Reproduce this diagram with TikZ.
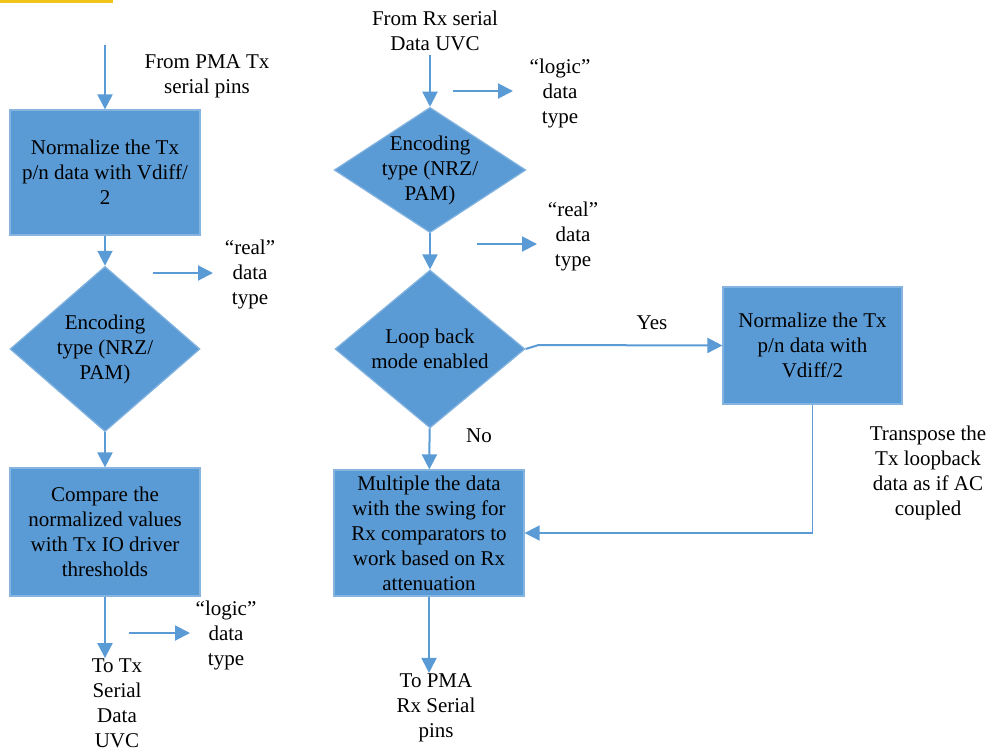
\documentclass[tikz,border=0pt]{standalone}
\usepackage{fontspec}
\newfontfamily\flowfont{LiberationSerif}[Extension=.ttf,UprightFont=*-Regular,Ligatures=TeX]
\usetikzlibrary{arrows.meta,shapes.geometric}
\definecolor{flowblue}{HTML}{5B9BD5}
\definecolor{bargold}{HTML}{F2C318}

\begin{document}
\begin{tikzpicture}[x=0.5pt,y=-0.5pt,
  every node/.style={align=center,inner sep=0pt,font=\flowfont\fontsize{10.5}{12.5}\selectfont},
  stepbox/.style={rectangle,fill=flowblue,draw=flowblue!75!white,line width=0.6pt,minimum width=95pt},
  choice/.style={diamond,fill=flowblue,draw=flowblue!75!white,line width=0.6pt,minimum width=95pt},
  flow/.style={draw=flowblue,line width=1pt,-{Triangle[length=7.5pt,width=7.5pt]}}]
  \useasboundingbox (0,0) rectangle (990,751);
  \fill[bargold] (0,0) rectangle (113,3);

  \node[stepbox,minimum height=62.5pt] (normTx) at (105,172.5) {Normalize the Tx\\p/n data with Vdiff/\\2};
  \node[choice,minimum height=79pt] (encTx) at (105,349) {Encoding\\type (NRZ/\\PAM)};
  \node[stepbox,minimum height=64pt] (cmpTx) at (105,532) {Compare the\\normalized values\\with Tx IO driver\\thresholds};
  \node (fromPMA) at (207,76.5) {From PMA Tx\\serial pins};
  \node (realTx) at (250,274) {“real”\\data\\type};
  \node (logicTx) at (226,635.5) {“logic”\\data\\type};
  \node (toTx) at (117,703) {To Tx\\Serial\\Data\\UVC};

  \node (fromRx) at (435,31) {From Rx serial\\Data UVC};
  \node[choice,aspect=1.53,inner sep=-1pt,minimum height=62pt] (encRx) at (430,170) {Encoding\\type (NRZ/\\PAM)};
  \node[choice,minimum height=79pt] (loop) at (430,349) {Loop back\\mode enabled};
  \node[stepbox,minimum height=63pt] (mult) at (429,533) {Multiple the data\\with the swing for\\Rx comparators to\\work based on Rx\\attenuation};
  \node[stepbox,minimum width=89.5pt,minimum height=58.5pt] (normLb) at (812.5,345.5) {Normalize the Tx\\p/n data with\\Vdiff/2};
  \node (logicRx) at (560,93) {“logic”\\data\\type};
  \node (realRx) at (573,236.5) {“real”\\data\\type};
  \node (yes) at (652,323) {Yes};
  \node (no) at (479,436) {No};
  \node (transpose) at (928,473) {Transpose the\\Tx loopback\\data as if AC\\coupled};
  \node (toPMA) at (436,707.5) {To PMA\\Rx Serial\\pins};

  \coordinate (inTx) at (105,45);
  \coordinate (inRx) at (430,55);
  \coordinate (realTxA) at (153,273);
  \coordinate (realTxB) at (213,273);
  \coordinate (logicTxA) at (129,633);
  \coordinate (logicTxB) at (190,633);
  \coordinate (logicRxA) at (453,91);
  \coordinate (logicRxB) at (513,91);
  \coordinate (realRxA) at (477,244);
  \coordinate (realRxB) at (537,244);

  \draw[flow] (inTx) -- (normTx.north);
  \draw[flow] (normTx) -- (encTx);
  \draw[flow] (encTx) -- (cmpTx);
  \draw[flow] (cmpTx.south) -- (cmpTx.south |- toTx.north);
  \draw[flow] (realTxA) -- (realTxB);
  \draw[flow] (logicTxA) -- (logicTxB);

  \draw[flow] (inRx) -- (encRx.north);
  \draw[flow] (encRx) -- (loop);
  \draw[flow] (loop) -- (mult);
  \draw[flow] (mult.south) -- (mult.south |- toPMA.north);
  \draw[flow] (logicRxA) -- (logicRxB);
  \draw[flow] (realRxA) -- (realRxB);
  \draw[flow] (loop.east) -- ++(13,-4) -- (normLb.west);
  \draw[flow,line width=0.8pt] (normLb.south) -- (normLb.south |- mult.east) -- (mult.east);
\end{tikzpicture}
\end{document}
